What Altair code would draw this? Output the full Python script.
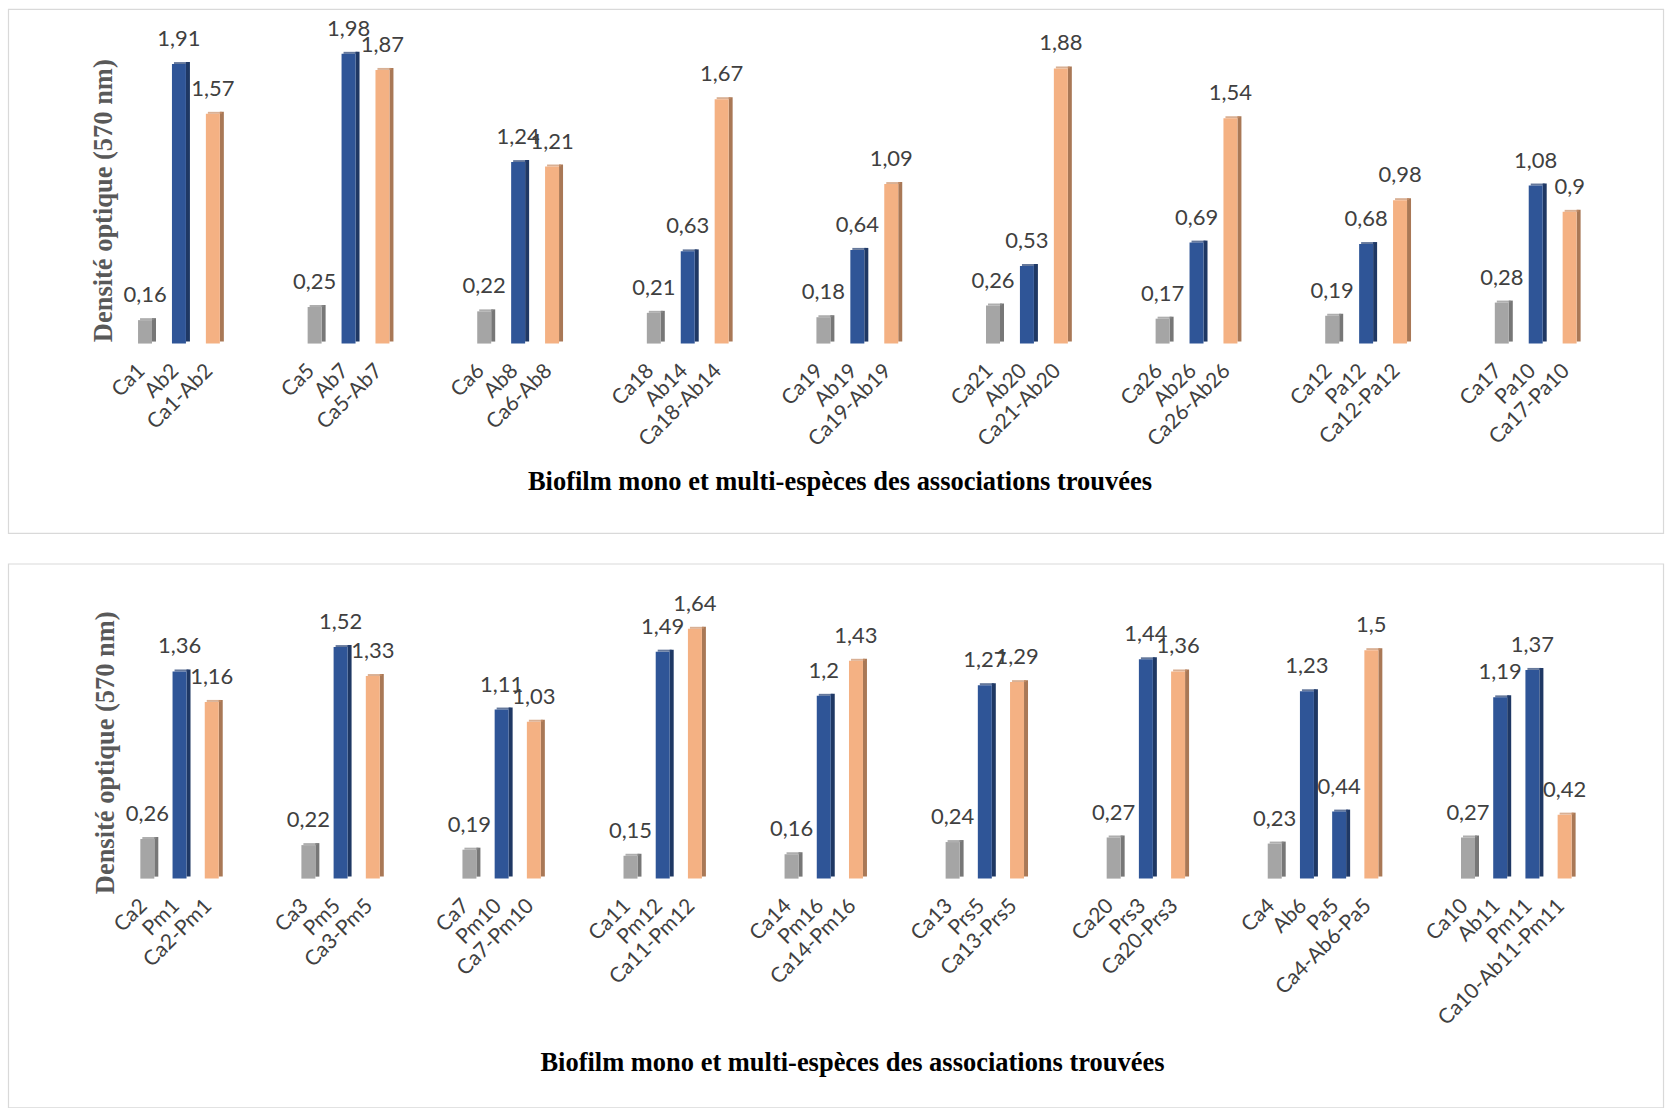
import altair as alt
import pandas as pd

# ---------------- data ----------------
top_groups = [
    ["Ca1", "Ab2", "Ca1-Ab2"],
    ["Ca5", "Ab7", "Ca5-Ab7"],
    ["Ca6", "Ab8", "Ca6-Ab8"],
    ["Ca18", "Ab14", "Ca18-Ab14"],
    ["Ca19", "Ab19", "Ca19-Ab19"],
    ["Ca21", "Ab20", "Ca21-Ab20"],
    ["Ca26", "Ab26", "Ca26-Ab26"],
    ["Ca12", "Pa12", "Ca12-Pa12"],
    ["Ca17", "Pa10", "Ca17-Pa10"],
]
top_values = [
    [0.16, 1.91, 1.57],
    [0.25, 1.98, 1.87],
    [0.22, 1.24, 1.21],
    [0.21, 0.63, 1.67],
    [0.18, 0.64, 1.09],
    [0.26, 0.53, 1.88],
    [0.17, 0.69, 1.54],
    [0.19, 0.68, 0.98],
    [0.28, 1.08, 0.9],
]
bottom_groups = [
    ["Ca2", "Pm1", "Ca2-Pm1"],
    ["Ca3", "Pm5", "Ca3-Pm5"],
    ["Ca7", "Pm10", "Ca7-Pm10"],
    ["Ca11", "Pm12", "Ca11-Pm12"],
    ["Ca14", "Pm16", "Ca14-Pm16"],
    ["Ca13", "Prs5", "Ca13-Prs5"],
    ["Ca20", "Prs3", "Ca20-Prs3"],
    ["Ca4", "Ab6", "Pa5", "Ca4-Ab6-Pa5"],
    ["Ca10", "Ab11", "Pm11", "Ca10-Ab11-Pm11"],
]
bottom_values = [
    [0.26, 1.36, 1.16],
    [0.22, 1.52, 1.33],
    [0.19, 1.11, 1.03],
    [0.15, 1.49, 1.64],
    [0.16, 1.2, 1.43],
    [0.24, 1.27, 1.29],
    [0.27, 1.44, 1.36],
    [0.23, 1.23, 0.44, 1.5],
    [0.27, 1.19, 1.37, 0.42],
]

y_title = "Densité optique (570 nm)"
x_title = "Biofilm mono et multi-espèces des associations trouvées"

roles = ["ca", "partner", "assoc"]
front_colors = ["#A5A5A5", "#2F5597", "#F4B183"]
side_colors = ["#777777", "#1F3864", "#A97856"]
cap_colors = ["#8C8C8C", "#233F70", "#C98F67"]

LABEL_FONT = "Lato"
SERIF = "Liberation Serif"
TXT = "#404040"


def build(groups, values):
    rows, domain, gap = [], [], 0
    for gi, (names, vals) in enumerate(zip(groups, values)):
        if gi > 0:
            for _ in range(2):
                gap += 1
                domain.append(" " * gap)
        for j, (n, v) in enumerate(zip(names, vals)):
            role = "ca" if j == 0 else ("assoc" if j == len(names) - 1 else "partner")
            rows.append({"name": n, "value": v, "role": role,
                         "label": f"{v}".replace(".", ",")})
            domain.append(n)
    return pd.DataFrame(rows), domain


def panel(groups, values, step, po, ymax, height, yt, xt, frame):
    df, domain = build(groups, values)
    n = len(domain)
    width = step * (n - 0.5 + 2 * po)
    xs = alt.Scale(domain=domain, paddingInner=0.5, paddingOuter=po)
    x = alt.X("name:N", scale=xs, sort=domain,
              axis=alt.Axis(title=x_title, labelAngle=-45, labelOverlap=False,
                            labelFont=LABEL_FONT, labelFontSize=21, labelColor=TXT,
                            labelPadding=16, labelOffset=-11, ticks=False, tickSize=0,
                            domain=False, grid=False, labelBound=False,
                            titleFont=SERIF, titleFontWeight="bold", titleFontSize=26.5,
                            titleColor="#000000", titleX=xt[0], titleY=xt[1],
                            titleAlign="center", titleBaseline="middle"))
    y = alt.Y("value:Q", scale=alt.Scale(domain=[0, ymax], nice=False, zero=True),
              axis=alt.Axis(title=y_title, labels=False, ticks=False, domain=False,
                            grid=False, titleFont=SERIF, titleFontWeight="bold",
                            titleFontSize=26.5, titleColor="#595959", titleAngle=270,
                            titleX=yt[0], titleY=yt[1], titleAlign="center",
                            titleBaseline="middle"))
    xn = alt.X("name:N", scale=xs, sort=domain)
    yn = alt.Y("value:Q")

    def col(rng):
        return alt.Color("role:N", scale=alt.Scale(domain=roles, range=rng), legend=None)

    base = alt.Chart(df)
    side = base.mark_bar(width=4, xOffset=9, yOffset=-2).encode(x=x, y=y, color=col(side_colors))
    cap = base.mark_tick(size=14, thickness=2, xOffset=2, yOffset=-1).encode(
        x=xn, y=yn, color=col(cap_colors))
    front = base.mark_bar(width=14).encode(x=xn, y=yn, color=col(front_colors))
    text = base.mark_text(font=LABEL_FONT, fontSize=22, color=TXT, baseline="bottom",
                          dy=-13, xOffset=0).encode(x=xn, y=yn, text="label:N")
    fr = alt.Chart(alt.Data(values=[{}])).mark_rect(
        fillOpacity=0, stroke="#D9D9D9", strokeWidth=1.2).encode(
        x=alt.value(frame[0]), x2=alt.value(frame[1]),
        y=alt.value(frame[2]), y2=alt.value(frame[3]))
    return alt.layer(fr, side, cap, front, text).resolve_scale(color="independent").properties(
        width=width, height=height)


PLOT_LEFT = 126.5
top_plot_top = 342.5 - 2.2 * 146.5
bot_plot_top = 876 - 1.8 * 152.5

top = panel(top_groups, top_values, step=33.96, po=0.2565, ymax=2.2, height=2.2 * 146.5,
            yt=(102 - PLOT_LEFT, 199 - top_plot_top),
            xt=(839 - PLOT_LEFT, 480.5 - 342.5),
            frame=(7 - PLOT_LEFT, 1664 - PLOT_LEFT, 8 - top_plot_top, 532.5 - top_plot_top))
bottom = panel(bottom_groups, bottom_values, step=32.25, po=0.3547, ymax=1.8, height=1.8 * 152.5,
               yt=(104 - PLOT_LEFT, 749.5 - bot_plot_top),
               xt=(851.5 - PLOT_LEFT, 1060 - 876),
               frame=(7 - PLOT_LEFT, 1664 - PLOT_LEFT, 561 - bot_plot_top, 1105.5 - bot_plot_top))

chart = alt.vconcat(top, bottom, spacing=28.5).properties(
    padding={"left": 7, "top": 8, "right": 2, "bottom": 2},
    background="white",
).configure_view(strokeWidth=0)

chart.save("out.html", embed_options={"renderer": "svg", "actions": False})
